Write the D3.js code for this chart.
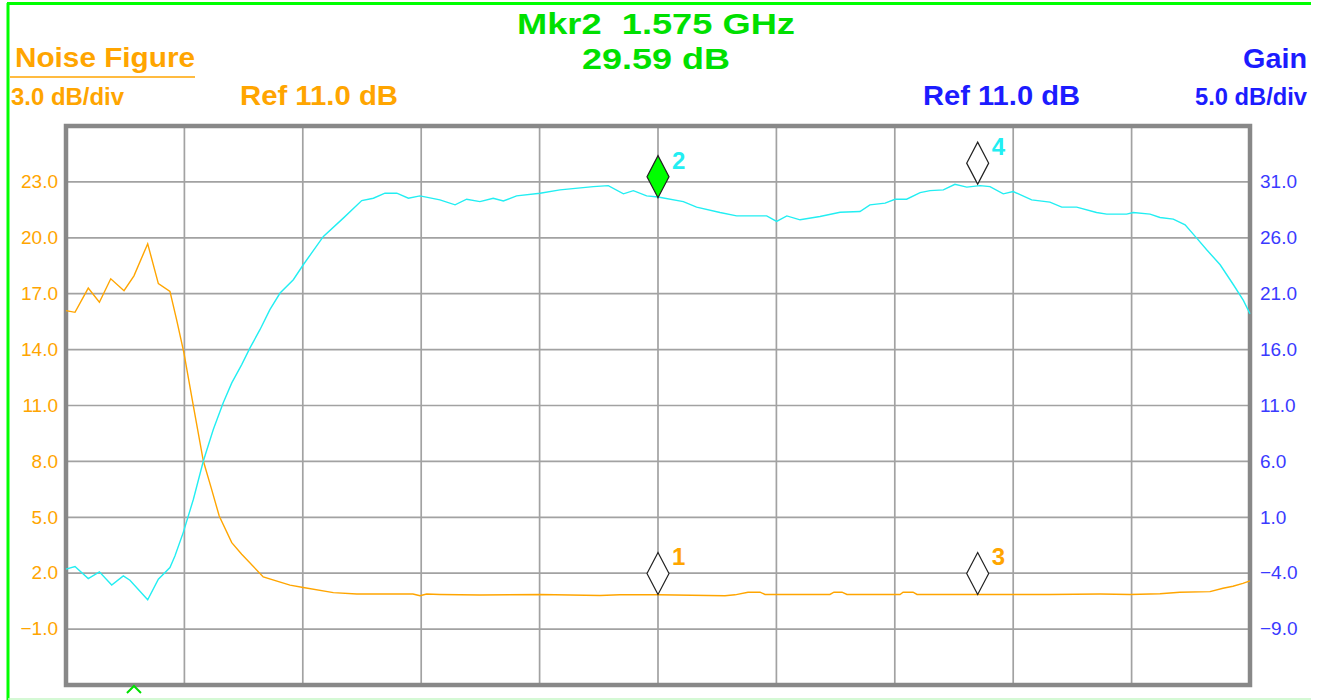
<!DOCTYPE html>
<html>
<head>
<meta charset="utf-8">
<script src="https://cdn.jsdelivr.net/npm/d3@7"></script>
<style>
  body { margin: 0; background: #fff; }
  svg { display: block; font-family: "Liberation Sans", Arial, sans-serif; }
</style>
</head>
<body>
<script>
// sweep, MHz
const startFreq = 1325;
const stopFreq = 1825;

// gain trace (dB)
const gainFreq = [1325.0, 1328.8, 1334.4, 1339.1, 1344.3, 1349.2, 1352.0, 1359.5, 1364.0, 1368.9,
    1371.0, 1374.5, 1378.8, 1383.0, 1387.2, 1391.4, 1395.0, 1399.2, 1402.7, 1406.9,
    1411.1, 1415.4, 1421.0, 1425.2, 1433.7, 1442.1, 1449.9, 1454.8, 1459.7, 1464.7,
    1469.6, 1474.5, 1482.9, 1489.3, 1494.2, 1499.8, 1505.4, 1509.7, 1515.3, 1525.2,
    1533.6, 1547.7, 1554.0, 1560.4, 1564.6, 1570.2, 1575.0, 1585.7, 1591.3, 1601.2,
    1608.2, 1620.9, 1625.1, 1629.4, 1635.0, 1643.4, 1651.9, 1660.3, 1664.5, 1670.9,
    1675.1, 1680.0, 1685.7, 1689.9, 1695.5, 1700.4, 1705.4, 1711.0, 1715.2, 1720.8,
    1725.0, 1732.8, 1740.5, 1745.5, 1751.8, 1760.2, 1764.5, 1772.9, 1775.7, 1782.8,
    1787.0, 1792.6, 1797.6, 1802.5, 1806.7, 1812.4, 1818.0, 1822.2, 1825.0];
const gainDb = [-3.64, -3.41, -4.48, -3.88, -5.05, -4.24, -4.63, -6.38, -4.54, -3.50,
    -2.46, -0.37, 2.61, 6.03, 8.86, 11.24, 13.02, 14.66, 16.15, 17.78,
    19.57, 21.06, 22.25, 23.59, 26.12, 27.76, 29.33, 29.54, 29.99, 29.99,
    29.54, 29.75, 29.39, 28.95, 29.45, 29.24, 29.54, 29.30, 29.75, 29.99,
    30.29, 30.58, 30.67, 29.93, 30.22, 29.75, 29.65, 29.24, 28.74, 28.26,
    27.96, 27.96, 27.46, 27.96, 27.61, 27.90, 28.29, 28.35, 28.95, 29.10,
    29.45, 29.45, 30.04, 30.22, 30.29, 30.79, 30.53, 30.67, 30.58, 29.93,
    30.14, 29.39, 29.19, 28.74, 28.74, 28.26, 28.12, 28.12, 28.26, 28.12,
    27.82, 27.67, 27.16, 25.97, 24.93, 23.59, 21.80, 20.40, 19.21];

// noise figure trace (dB)
const nfFreq = [1325.0, 1328.8, 1334.4, 1339.1, 1343.9, 1349.5, 1353.7, 1359.5, 1364.0, 1368.9,
    1371.7, 1374.8, 1378.8, 1383.0, 1386.5, 1389.7, 1395.0, 1399.2, 1408.3, 1419.6,
    1425.2, 1437.9, 1447.8, 1471.5, 1474.5, 1477.3, 1482.9, 1499.8, 1525.2, 1550.5,
    1558.9, 1575.0, 1603.3, 1607.5, 1613.0, 1618.1, 1620.2, 1647.6, 1649.3, 1652.7,
    1654.8, 1677.2, 1678.5, 1682.7, 1684.4, 1710.1, 1740.5, 1761.7, 1774.3, 1787.0,
    1795.4, 1808.1, 1813.6, 1817.8, 1822.0, 1825.0];
const nfDb = [16.09, 16.00, 17.30, 16.54, 17.80, 17.16, 17.96, 19.68, 17.54, 17.12,
    15.61, 13.82, 10.96, 8.02, 6.50, 5.07, 3.64, 3.02, 1.80, 1.36,
    1.23, 0.96, 0.88, 0.88, 0.79, 0.88, 0.86, 0.83, 0.86, 0.80,
    0.84, 0.84, 0.79, 0.84, 0.98, 0.98, 0.86, 0.86, 0.98, 0.98,
    0.86, 0.86, 0.98, 0.98, 0.86, 0.86, 0.86, 0.88, 0.86, 0.90,
    0.98, 1.01, 1.19, 1.30, 1.45, 1.59];

// axis labels
const nfTicks = [23, 20, 17, 14, 11, 8, 5, 2, -1];
const gainTicks = [31, 26, 21, 16, 11, 6, 1, -4, -9];

// markers
const markerIds = [1, 2, 3, 4];
const markerTrace = ["nf", "gain", "nf", "gain"];
const markerFreq = [1575, 1575, 1710, 1710];
const markerDb = [0.86, 29.59, 0.86, 30.8];
const activeMarker = 2;
const refFreq = 1353.7; // the little caret under the grid

const colours = {
    nf: "#ffa500",
    gain: "#22eef2",
    blue: "#1c1cff",
    blueTick: "#3a3aff",
    green: "#00e000",
    grid: "#a2a2a2",
    frame: "#888"
};

const width = 1328;
const height = 700;
const plotLeft = 66, plotRight = 1250, plotTop = 126, plotBottom = 685;

const svg = d3.select("body")
    .append("svg")
    .attr("width", width)
    .attr("height", height);

const x = d3.scaleLinear().domain([startFreq, stopFreq]).range([plotLeft, plotRight]);
const yNf = d3.scaleLinear().domain([-4, 26]).range([plotBottom, plotTop]);
const yGain = d3.scaleLinear().domain([-14, 36]).range([plotBottom, plotTop]);

// outer border
svg.append("line").attr("x1", 7).attr("x2", 1311).attr("y1", 3.5).attr("y2", 3.5)
    .attr("stroke", "#00ff00").attr("stroke-width", 3);
svg.append("line").attr("x1", 8).attr("x2", 8).attr("y1", 3).attr("y2", 700)
    .attr("stroke", "#00ff00").attr("stroke-width", 3);
svg.append("line").attr("x1", 8).attr("x2", 1311).attr("y1", 699).attr("y2", 699)
    .attr("stroke", "#c6f7c6").attr("stroke-width", 1.5);

// grid
const grid = svg.append("g");
grid.selectAll(".v").data(d3.range(1, 10))
    .enter().append("line")
    .attr("x1", i => x(startFreq + i * (stopFreq - startFreq) / 10))
    .attr("x2", i => x(startFreq + i * (stopFreq - startFreq) / 10))
    .attr("y1", plotTop).attr("y2", plotBottom)
    .attr("stroke", colours.grid).attr("stroke-width", 1.7);
grid.selectAll(".h").data(nfTicks)
    .enter().append("line")
    .attr("x1", plotLeft).attr("x2", plotRight)
    .attr("y1", d => yNf(d)).attr("y2", d => yNf(d))
    .attr("stroke", colours.grid).attr("stroke-width", 1.7);

svg.append("rect")
    .attr("x", plotLeft).attr("y", plotTop)
    .attr("width", plotRight - plotLeft).attr("height", plotBottom - plotTop)
    .attr("fill", "none")
    .attr("stroke", colours.frame)
    .attr("stroke-width", 4.5);

// axes
const leftAxis = svg.append("g")
    .attr("transform", `translate(${plotLeft},0)`)
    .call(d3.axisLeft(yNf).tickValues(nfTicks).tickSize(0).tickPadding(8).tickFormat(d3.format(".1f")));
const rightAxis = svg.append("g")
    .attr("transform", `translate(${plotRight},0)`)
    .call(d3.axisRight(yGain).tickValues(gainTicks).tickSize(0).tickPadding(10).tickFormat(d3.format(".1f")));
[leftAxis, rightAxis].forEach(a => a.select(".domain").remove());
leftAxis.selectAll("text")
    .attr("font-family", "Liberation Sans, Arial, sans-serif")
    .attr("font-size", 19).attr("fill", colours.nf).attr("dy", "0.3em");
rightAxis.selectAll("text")
    .attr("font-family", "Liberation Sans, Arial, sans-serif")
    .attr("font-size", 19).attr("fill", colours.blueTick).attr("dy", "0.3em");

// traces
const nfLine = d3.line().x((d, i) => x(nfFreq[i])).y(d => yNf(d));
const gainLine = d3.line().x((d, i) => x(gainFreq[i])).y(d => yGain(d));

svg.append("path")
    .attr("d", nfLine(nfDb))
    .attr("fill", "none")
    .attr("stroke", colours.nf)
    .attr("stroke-width", 1.4);
svg.append("path")
    .attr("d", gainLine(gainDb))
    .attr("fill", "none")
    .attr("stroke", colours.gain)
    .attr("stroke-width", 1.4);

// markers
const markers = svg.append("g").selectAll("g")
    .data(markerIds)
    .enter()
    .append("g")
    .attr("transform", (d, i) => {
        const yy = markerTrace[i] === "nf" ? yNf(markerDb[i]) : yGain(markerDb[i]);
        return `translate(${x(markerFreq[i])}, ${yy})`;
    });

markers.append("path")
    .attr("d", "M0,0 L-11,-21 L0,-42 L11,-21 Z")
    .attr("fill", d => d === activeMarker ? "#00ff00" : "#fff")
    .attr("stroke", "#222")
    .attr("stroke-width", 1.2);

markers.append("text")
    .attr("x", 14)
    .attr("y", -29)
    .attr("font-size", 24)
    .attr("font-weight", "bold")
    .attr("fill", (d, i) => markerTrace[i] === "nf" ? colours.nf : colours.gain)
    .text(d => d);

// reference caret
svg.append("path")
    .attr("d", `M${x(refFreq) - 7},693 L${x(refFreq)},686 L${x(refFreq) + 7},693`)
    .attr("fill", "none")
    .attr("stroke", colours.green)
    .attr("stroke-width", 2);

// header
function label(txt, xx, yy, size, colour, anchor, len){
    const t = svg.append("text")
        .attr("x", xx)
        .attr("y", yy)
        .attr("font-size", size)
        .attr("font-weight", "bold")
        .attr("fill", colour)
        .attr("text-anchor", anchor)
        .style("white-space", "pre")
        .text(txt);
    if(len){
        t.attr("textLength", len).attr("lengthAdjust", "spacingAndGlyphs");
    }
    return t;
}

const mi = markerIds.indexOf(activeMarker);
label(`Mkr${activeMarker}  ${(markerFreq[mi] / 1000).toFixed(3)} GHz`, 656, 34, 30, colours.green, "middle", 278);
label(`${markerDb[mi].toFixed(2)} dB`, 656, 69, 30, colours.green, "middle", 148);

label("Noise Figure", 15, 67, 28, colours.nf, "start", 180);
svg.append("line").attr("x1", 10).attr("x2", 195).attr("y1", 77).attr("y2", 77)
    .attr("stroke", colours.nf).attr("stroke-width", 1.5);
label("3.0 dB/div", 11, 105, 24, colours.nf, "start", 113);
label("Ref 11.0 dB", 240, 105, 28, colours.nf, "start", 158);

label("Gain", 1307, 68, 28, colours.blue, "end", 64);
label("Ref 11.0 dB", 923, 105, 28, colours.blue, "start", 157);
label("5.0 dB/div", 1307, 105, 24, colours.blue, "end", 112);
</script>
</body>
</html>
